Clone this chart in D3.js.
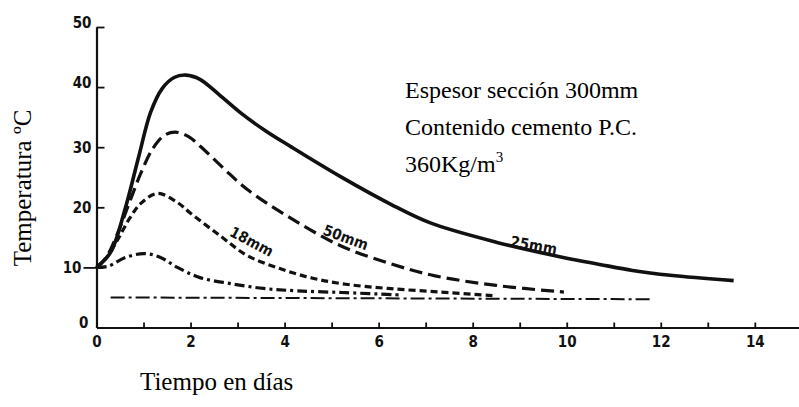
<!DOCTYPE html>
<html>
<head>
<meta charset="utf-8">
<script src="https://cdn.jsdelivr.net/npm/d3@7"></script>
<style>
  html, body { margin: 0; padding: 0; background: #fff; }
  svg { display: block; }
</style>
</head>
<body>
<script>
// ---- data (day, °C) ----
const curve25 = [[0,10],[0.3,12.5],[0.6,19.5],[0.9,28.5],[1.15,35.8],[1.4,39.8],[1.65,41.6],[1.9,42],[2.2,41.3],[2.6,38.8],[3.1,35.5],[3.6,32.7],[4.13,30.1],[5.19,25.1],[6.26,20.5],[7.1,17.4],[8.5,14.2],[9.9,11.7],[10.7,10.5],[11.4,9.5],[12.2,8.7],[13.55,7.8]];
const curve50 = [[0,10],[0.2,11.6],[0.45,15.7],[0.7,20.8],[0.95,25.8],[1.2,29.8],[1.45,32],[1.68,32.5],[1.95,31.8],[2.2,30.2],[2.7,26.5],[3.2,23],[4.13,18.2],[5.19,13.6],[6.26,10.6],[7.2,8.6],[8.5,7],[9.94,5.9]];
const curve18 = [[0,10],[0.2,11.5],[0.45,14.6],[0.7,18.1],[0.95,20.7],[1.3,22.3],[1.72,20.8],[2,19],[2.64,15.2],[3.2,12],[3.9,9.8],[4.6,8.2],[5.3,7.2],[6.2,6.5],[7.3,5.9],[8.45,5.3]];
const curveDashDot = [[0,10],[0.25,10.2],[0.6,11.6],[1,12.3],[1.35,11.7],[1.72,10],[2.2,8.3],[2.85,7.3],[3.55,6.5],[4.27,6.1],[5.3,5.8],[6.5,5.4]];
const ambient = [[0.3,5],[11.8,4.7]];
const xTicks = [0,1,2,3,4,5,6,7,8,9,10,11,12,13,14];
const yTicks = [0,10,20,30,40,50];
const curveLabels = ["25mm","50mm","18mm"];
const labelAnchors = [[9.3,13.7],[5.3,15],[3.3,14.3]]; // (day, °C) positions of curve labels
const noteLines = ["Espesor sección 300mm","Contenido cemento P.C.","360Kg/m"];
const xTitle = "Tiempo en días";
const yTitle = "Temperatura ºC";

const W = 799, H = 407;
const svg = d3.select("body").append("svg").attr("width", W).attr("height", H);

const x = d3.scaleLinear().domain([0, 14.94]).range([96.5, 799]);
const y = d3.scaleLinear().domain([0, 50]).range([327.5, 27]);

const ink = "#111";
const tickFont = "'DejaVu Sans Condensed', 'DejaVu Sans', sans-serif";
const serif = "'Liberation Serif', 'Times New Roman', serif";

// x axis
const xAxis = svg.append("g").attr("transform", `translate(0,${y(0)})`)
  .call(d3.axisBottom(x).tickValues(xTicks).tickSize(-5).tickSizeOuter(0)
    .tickFormat(d => d % 2 === 0 ? d : ""));
xAxis.select(".domain").attr("stroke", ink).attr("stroke-width", 2.2);
xAxis.selectAll(".tick line").attr("stroke", ink).attr("stroke-width", 1.8)
  .attr("display", d => d === 0 ? "none" : null);
xAxis.selectAll(".tick text").attr("fill", ink).attr("font-family", tickFont)
  .attr("font-weight", "bold").attr("font-size", 15).attr("dy", "1.05em").attr("y", 4);

// y axis
const yAxis = svg.append("g").attr("transform", `translate(${x(0)},0)`)
  .call(d3.axisLeft(y).tickValues(yTicks).tickSize(0).tickSizeOuter(0).tickPadding(5));
yAxis.select(".domain").attr("stroke", ink).attr("stroke-width", 2.2);
yAxis.selectAll(".tick").each(function(d) {
  const g = d3.select(this);
  if (d === 0) return;
  if (d === 10) g.select("line").attr("x2", -13);
  else g.select("line").attr("x2", 8);
  g.select("line").attr("stroke", ink).attr("stroke-width", 1.8);
});
yAxis.selectAll(".tick text").attr("fill", ink).attr("font-family", tickFont)
  .attr("font-weight", "bold").attr("font-size", 15)
  .attr("x", d => d === 10 ? -15 : (d === 0 ? -8 : -5))
  .attr("dy", d => d >= 40 ? "0em" : (d === 0 ? "0em" : "0.36em"));

// curves
const line = d3.line().x(d => x(d[0])).y(d => y(d[1])).curve(d3.curveCatmullRom.alpha(0.5));
const styles = [
  { data: curve25, width: 3.6, dash: null },
  { data: curve50, width: 3.2, dash: "13,6" },
  { data: curve18, width: 3.2, dash: "7,4" },
  { data: curveDashDot, width: 3.2, dash: "10,4,3,4" },
  { data: ambient, width: 2, dash: "14,4,3,4" }
];
svg.append("g").selectAll("path").data(styles).join("path")
  .attr("d", s => line(s.data))
  .attr("fill", "none").attr("stroke", ink)
  .attr("stroke-width", s => s.width)
  .attr("stroke-dasharray", s => s.dash);

// curve labels
const rot = [10, 20, 28];
svg.append("g").selectAll("text").data(curveLabels).join("text")
  .attr("transform", (d, i) => `translate(${x(labelAnchors[i][0])},${y(labelAnchors[i][1])}) rotate(${rot[i]})`)
  .attr("text-anchor", "middle").attr("dy", "0.35em")
  .attr("font-family", tickFont).attr("font-weight", "bold").attr("font-size", 15)
  .attr("fill", ink).text(d => d);

// note
const note = svg.append("g").attr("font-family", serif).attr("font-size", 24).attr("fill", "#000");
noteLines.forEach((t, i) => {
  const tx = note.append("text").attr("x", 405).attr("y", 98 + i * 37).text(t);
  if (i === 2) tx.append("tspan").attr("dy", -10).attr("font-size", 15).text("3");
});

// axis titles
svg.append("text").attr("x", 140).attr("y", 390)
  .attr("font-family", serif).attr("font-size", 25).attr("fill", "#000").text(xTitle);
svg.append("text").attr("transform", "translate(31,188) rotate(-90)")
  .attr("text-anchor", "middle")
  .attr("font-family", serif).attr("font-size", 25).attr("fill", "#000").text(yTitle);
</script>
</body>
</html>
